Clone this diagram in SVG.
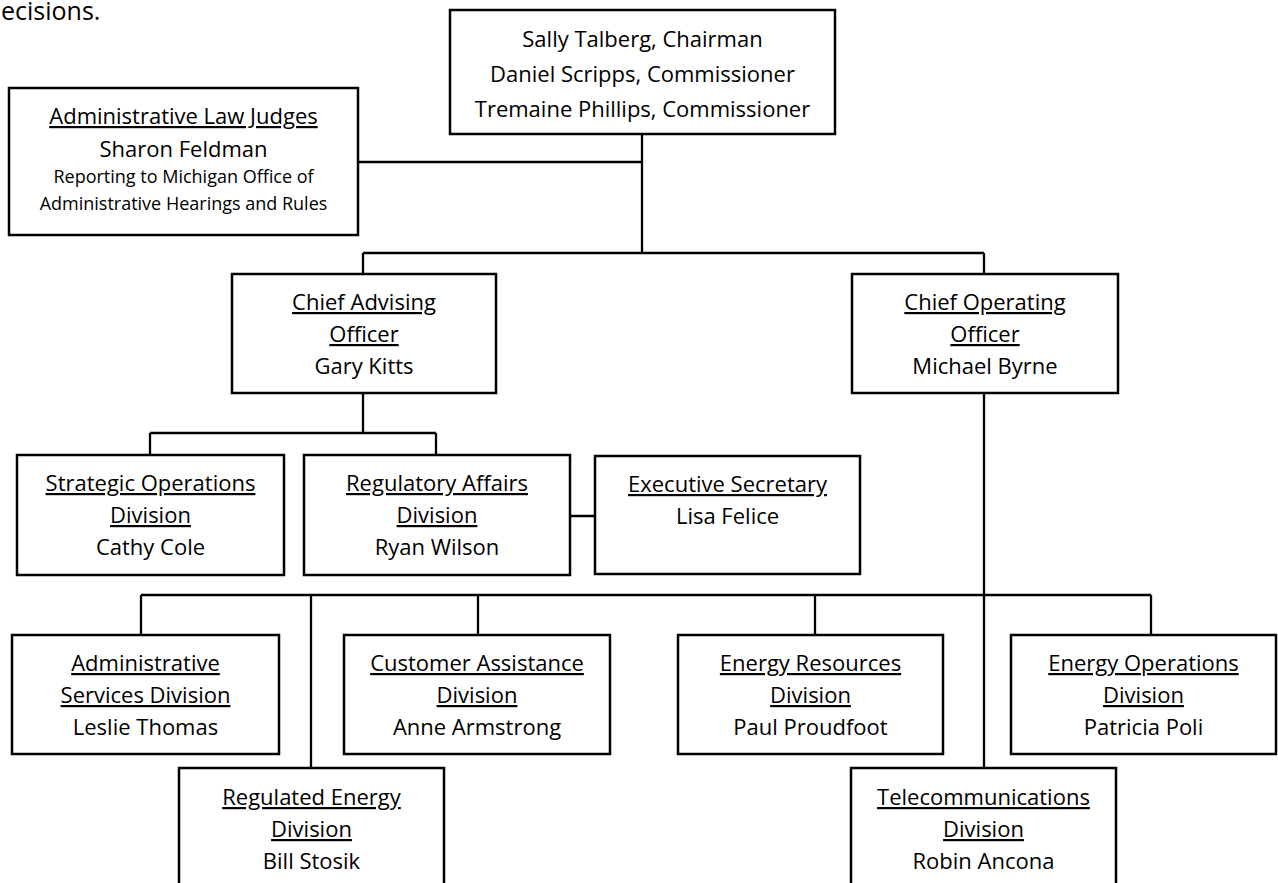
<svg xmlns="http://www.w3.org/2000/svg" width="1278" height="883" viewBox="0 0 1278 883">
<style>
.box{fill:#fff;stroke:#000;stroke-width:2.5}
.conn{fill:none;stroke:#000;stroke-width:2.3}
text{font-family:"Open Sans","Noto Sans","DejaVu Sans",sans-serif;font-size:22px;fill:#000;text-anchor:middle}
.u{text-decoration:underline}
.sm{font-size:18px}
</style>
<rect width="1278" height="883" fill="#fff"/>
<text x="1" y="20" style="text-anchor:start;font-size:25px">ecisions.</text>
<g id="connectors">
<path class="conn" d="M642 134V253M358 162H642M363 253H984M363 253V274M984 253V274"/>
<path class="conn" d="M363 393V433M150 433H436M150 433V455M436 433V455M570 516H595"/>
<path class="conn" d="M984 393V768M141 595H1151M141 595V635M478 595V635M815 595V635M1151 595V635M311 595V768"/>
</g>
<g id="board">
<rect class="box" x="450" y="10" width="385" height="124"/>
<text x="642.5" y="47">Sally Talberg, Chairman</text>
<text x="642.5" y="82">Daniel Scripps, Commissioner</text>
<text x="642.5" y="117">Tremaine Phillips, Commissioner</text>
</g>
<g id="alj">
<rect class="box" x="9" y="88" width="349" height="147"/>
<text x="183.5" y="124" class="u">Administrative Law Judges</text>
<text x="183.5" y="157">Sharon Feldman</text>
<text x="183.5" y="183" class="sm">Reporting to Michigan Office of</text>
<text x="183.5" y="210" class="sm">Administrative Hearings and Rules</text>
</g>
<g id="cao">
<rect class="box" x="232" y="274" width="264" height="119"/>
<text x="364" y="310" class="u">Chief Advising</text>
<text x="364" y="342" class="u">Officer</text>
<text x="364" y="374">Gary Kitts</text>
</g>
<g id="coo">
<rect class="box" x="852" y="274" width="266" height="119"/>
<text x="985" y="310" class="u">Chief Operating</text>
<text x="985" y="342" class="u">Officer</text>
<text x="985" y="374">Michael Byrne</text>
</g>
<g id="sod">
<rect class="box" x="17" y="455" width="267" height="120"/>
<text x="150.5" y="491" class="u">Strategic Operations</text>
<text x="150.5" y="523" class="u">Division</text>
<text x="150.5" y="555">Cathy Cole</text>
</g>
<g id="rad">
<rect class="box" x="304" y="455" width="266" height="120"/>
<text x="437" y="491" class="u">Regulatory Affairs</text>
<text x="437" y="523" class="u">Division</text>
<text x="437" y="555">Ryan Wilson</text>
</g>
<g id="exec">
<rect class="box" x="595" y="456" width="265" height="118"/>
<text x="727.5" y="492" class="u">Executive Secretary</text>
<text x="727.5" y="524">Lisa Felice</text>
</g>
<g id="asd">
<rect class="box" x="12" y="635" width="267" height="119"/>
<text x="145.5" y="671" class="u">Administrative</text>
<text x="145.5" y="703" class="u">Services Division</text>
<text x="145.5" y="735">Leslie Thomas</text>
</g>
<g id="cad">
<rect class="box" x="344" y="635" width="266" height="119"/>
<text x="477" y="671" class="u">Customer Assistance</text>
<text x="477" y="703" class="u">Division</text>
<text x="477" y="735">Anne Armstrong</text>
</g>
<g id="erd">
<rect class="box" x="678" y="635" width="265" height="119"/>
<text x="810.5" y="671" class="u">Energy Resources</text>
<text x="810.5" y="703" class="u">Division</text>
<text x="810.5" y="735">Paul Proudfoot</text>
</g>
<g id="eod">
<rect class="box" x="1011" y="635" width="265" height="119"/>
<text x="1143.5" y="671" class="u">Energy Operations</text>
<text x="1143.5" y="703" class="u">Division</text>
<text x="1143.5" y="735">Patricia Poli</text>
</g>
<g id="red">
<rect class="box" x="179" y="768" width="265" height="130"/>
<text x="311.5" y="805" class="u">Regulated Energy</text>
<text x="311.5" y="837" class="u">Division</text>
<text x="311.5" y="869">Bill Stosik</text>
</g>
<g id="tel">
<rect class="box" x="851" y="768" width="265" height="130"/>
<text x="983.5" y="805" class="u">Telecommunications</text>
<text x="983.5" y="837" class="u">Division</text>
<text x="983.5" y="869">Robin Ancona</text>
</g>
</svg>
